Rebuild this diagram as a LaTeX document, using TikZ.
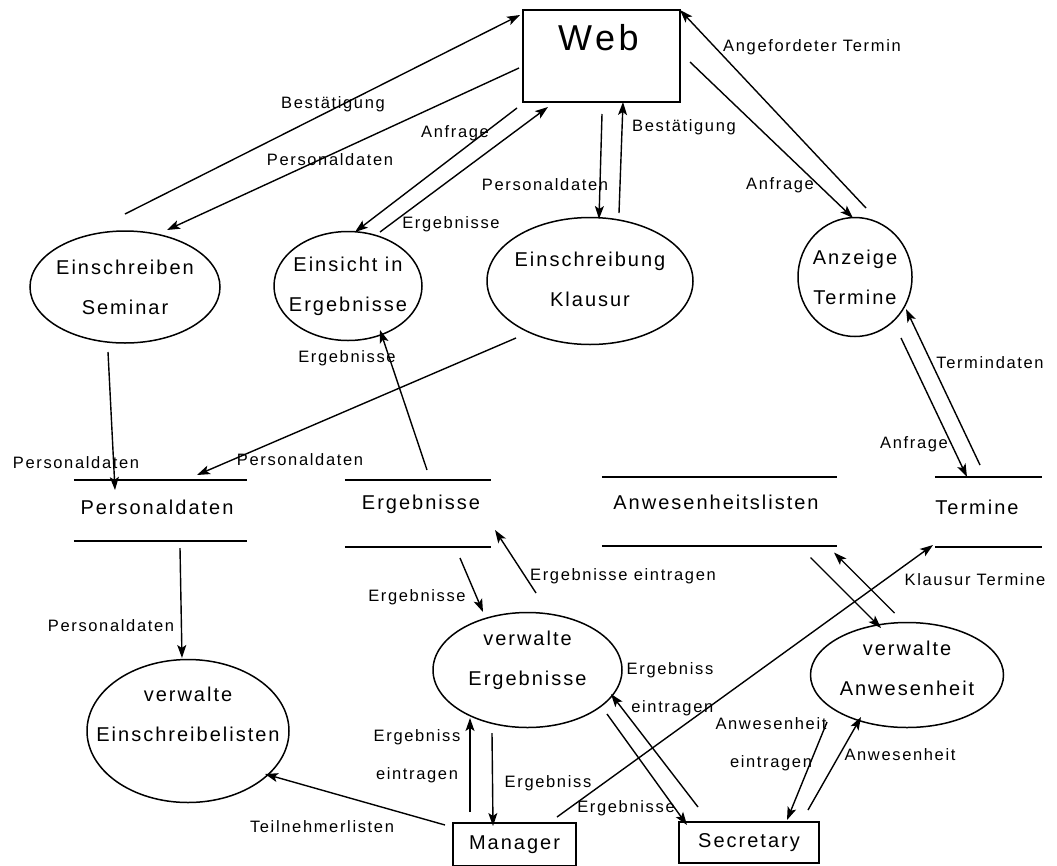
\documentclass[tikz,border=0pt]{standalone}
\usepackage{fontspec}
\newfontfamily\lsans[LetterSpace=10]{Liberation Sans}
\usetikzlibrary{shapes.geometric,arrows.meta,calc}
\begin{document}
\begin{tikzpicture}[x=1pt,y=-1pt,
  flow/.style={line width=1.4pt, -{Stealth[length=13pt,width=9pt,inset=3pt]}},
  proc/.style={draw, ellipse, line width=1.5pt, inner sep=0pt},
  ent/.style={draw, rectangle, line width=1.5pt, inner sep=0pt, font=\lsans\fontsize{20}{40}\selectfont},
  store/.style={inner sep=0pt},
  sline/.style={line width=1.5pt},
  ntxt/.style={font=\lsans\fontsize{20}{40}\selectfont, align=center, inner sep=0pt},
  lbl/.style={font=\lsans\fontsize{16.5}{38}\selectfont, align=center, inner sep=0pt},
]
\useasboundingbox[fill=white] (0,0) rectangle (1057,865);

% external entities
\node[ent, minimum width=157pt, minimum height=92pt,
  label={[font=\lsans\fontsize{36}{40}\selectfont, xshift=-3pt, yshift=18pt]center:Web}] (web) at (601.5,56) {};
\node[ent, minimum width=123pt, minimum height=43pt] (mgr) at (514.5,844.5) {Manager};
\node[ent, minimum width=140pt, minimum height=41pt] (sec) at (749,842.5) {Secretary};

% processes
\node[proc, minimum width=190pt, minimum height=112pt,
  label={[ntxt]center:Einschreiben\\Seminar}] (es) at (125,287) {};
\node[proc, minimum width=148pt, minimum height=109pt,
  label={[ntxt]center:Einsicht in\\Ergebnisse}] (ei) at (348,286) {};
\node[proc, minimum width=206pt, minimum height=127pt,
  label={[ntxt, yshift=2pt]center:Einschreibung\\Klausur}] (ek) at (590,281) {};
\node[proc, minimum width=114pt, minimum height=119pt,
  label={[ntxt]center:Anzeige\\Termine}] (at) at (855,277) {};
\node[proc, minimum width=202pt, minimum height=143pt,
  label={[ntxt, yshift=17pt]center:verwalte\\Einschreibelisten}] (ve) at (188,731) {};
\node[proc, minimum width=189pt, minimum height=115pt,
  label={[ntxt, yshift=10pt]center:verwalte\\Ergebnisse}] (vg) at (527.5,670) {};
\node[proc, minimum width=193pt, minimum height=105pt,
  label={[ntxt, yshift=7pt]center:verwalte\\Anwesenheit}] (va) at (907,675) {};

% data stores
\node[store, minimum width=173pt, minimum height=61pt,
  label={[ntxt, xshift=-3.5pt, yshift=3.5pt]center:Personaldaten}] (sp) at (160.5,510.5) {};
\node[store, minimum width=146pt, minimum height=67pt,
  label={[ntxt, xshift=3pt, yshift=9.5pt]center:Ergebnisse}] (sr) at (418,513.5) {};
\node[store, minimum width=235pt, minimum height=69pt,
  label={[ntxt, xshift=-3.5pt, yshift=9.5pt]center:Anwesenheitslisten}] (sa) at (719.5,511.5) {};
\node[store, minimum width=107pt, minimum height=70pt,
  label={[ntxt, xshift=-11.5pt, yshift=5pt]center:Termine}] (st) at (988.5,512) {};
\foreach \s in {sp,sr,sa,st}{
  \draw[sline] (\s.north west) -- (\s.north east) (\s.south west) -- (\s.south east);
}

% connectors
\draw[flow] ($(es.center)+(0,-73)$) -- ($(web.center)+(-81.5,-41)$);
\draw[flow] ($(web.center)+(-82.5,12)$) -- ($(es.center)+(42,-57)$);
\draw[flow] ($(web.center)+(-84.5,52)$) -- ($(ei.center)+(7,-54)$);
\draw[flow] ($(ei.center)+(32,-54)$) -- ($(web.center)+(-53.5,51)$);
\draw[flow] ($(web.center)+(0.5,58)$) -- ($(ek.center)+(9,-62)$);
\draw[flow] ($(ek.center)+(29,-68)$) -- ($(web.center)+(21.5,46)$);
\draw[flow] ($(web.center)+(88.5,6)$) -- ($(at.center)+(-2,-59)$);
\draw[flow] ($(at.center)+(11,-69)$) -- ($(web.center)+(78.5,-46)$);
\draw[flow] ($(st.center)+(-8.5,-47)$) -- ($(at.center)+(51,32)$);
\draw[flow] ($(at.center)+(46,61)$) -- ($(st.center)+(-21.5,-35)$);
\draw[flow] ($(es.center)+(-17,65)$) -- ($(sp.center)+(-45.5,-20.5)$);
\draw[flow] ($(ek.center)+(-74,57)$) -- ($(sp.center)+(36.5,-35.5)$);
\draw[flow] ($(sr.center)+(9,-43.5)$) -- ($(ei.center)+(32,44)$);
\draw[flow] ($(sp.center)+(19.5,37.5)$) -- ($(ve.center)+(-6,-73)$);
\draw[flow] ($(sr.center)+(42,44.5)$) -- ($(vg.center)+(-44.5,-58)$);
\draw[flow] ($(vg.center)+(8.5,-77)$) -- ($(sr.center)+(77,16.5)$);
\draw[flow] ($(mgr.center)+(-44.5,-32.5)$) -- ($(vg.center)+(-57.5,48)$);
\draw[flow] ($(vg.center)+(-35.5,63)$) -- ($(mgr.center)+(-21.5,-18.5)$);
\draw[flow] ($(mgr.center)+(42.5,-27.5)$) -- ($(st.center)+(-55.5,33)$);
\draw[flow] ($(sec.center)+(-51,-35.5)$) -- ($(vg.center)+(83.5,24)$);
\draw[flow] ($(vg.center)+(79.5,44)$) -- ($(sec.center)+(-62,-17.5)$);
\draw[flow] ($(sa.center)+(91,46)$) -- ($(va.center)+(-26,-47)$);
\draw[flow] ($(va.center)+(-12.5,-62)$) -- ($(sa.center)+(114.5,41)$);
\draw[flow] ($(va.center)+(-80,47)$) -- ($(sec.center)+(38,-22.5)$);
\draw[flow] ($(sec.center)+(59,-32.5)$) -- ($(va.center)+(-46,42)$);
\draw[flow] ($(mgr.center)+(-69.5,-19.5)$) -- ($(ve.center)+(77,43)$);

% connector labels
\node[lbl] (l1) at (333,104) {Bestätigung};
\node[lbl] (l2) at (330,160) {Personaldaten};
\node[lbl] (l3) at (455,133) {Anfrage};
\node[lbl] (l4) at (451,224) {Ergebnisse};
\node[lbl] (l5) at (545,185) {Personaldaten};
\node[lbl] (l6) at (684,127) {Bestätigung};
\node[lbl] (l7) at (780,185) {Anfrage};
\node[lbl] (l8) at (812,47) {Angefordeter Termin};
\node[lbl] (l9) at (990,363) {Termindaten};
\node[lbl] (l10) at (914,444) {Anfrage};
\node[lbl] (l11) at (76,463) {Personaldaten};
\node[lbl] (l12) at (300,460) {Personaldaten};
\node[lbl] (l13) at (347,358) {Ergebnisse};
\node[lbl] (l14) at (111,626) {Personaldaten};
\node[lbl] (l15) at (417,597) {Ergebnisse};
\node[lbl] (l16) at (623,576) {Ergebnisse eintragen};
\node[lbl] (l17) at (417,756) {Ergebniss\\eintragen};
\node[lbl] (l18) at (548,783) {Ergebniss};
\node[lbl] (l19) at (626,808) {Ergebnisse};
\node[lbl, align=right] (l20) at (670,689.5) {Ergebniss\\eintragen};
\node[lbl] (l21) at (771,744) {Anwesenheit\\eintragen};
\node[lbl] (l22) at (900,755) {Anwesenheit};
\node[lbl] (l23) at (975,580) {Klausur Termine};
\node[lbl] (l24) at (322,827) {Teilnehmerlisten};
\end{tikzpicture}
\end{document}
